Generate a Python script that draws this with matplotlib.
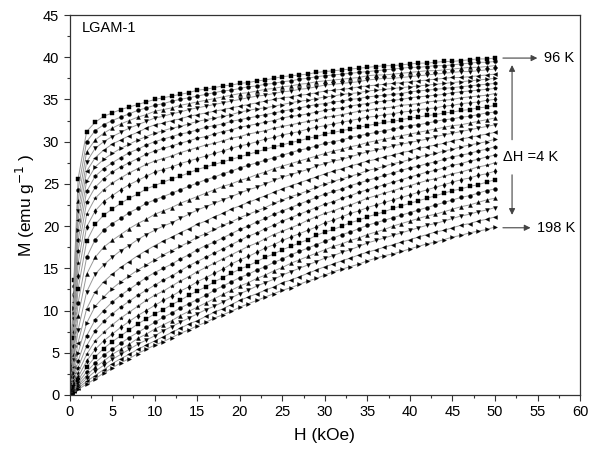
import matplotlib
matplotlib.use("Agg")
import matplotlib.pyplot as plt
from matplotlib.ticker import MultipleLocator

plt.rcParams["font.family"] = ["Liberation Sans", "DejaVu Sans"]

# applied field (kOe)
field_kOe = [0, 0.25, 0.5, 1, 2, 3, 4, 5, 6, 7, 8, 9, 10,
             11, 12, 13, 14, 15, 16, 17, 18, 19, 20,
             21, 22, 23, 24, 25, 26, 27, 28, 29, 30,
             31, 32, 33, 34, 35, 36, 37, 38, 39, 40,
             41, 42, 43, 44, 45, 46, 47, 48, 49, 50]

# magnetization isotherms (emu/g), 96 K at the top down to 198 K
m_096 = [0, 6.8, 13.6, 25.6, 31.2, 32.3, 33.0, 33.4, 33.8, 34.1, 34.4, 34.7, 35.0,
         35.2, 35.4, 35.6, 35.8, 36.1, 36.2, 36.4, 36.6, 36.7, 36.9,
         37.0, 37.2, 37.3, 37.5, 37.7, 37.8, 37.9, 38.0, 38.2, 38.3,
         38.4, 38.5, 38.6, 38.7, 38.8, 38.9, 39.0, 39.0, 39.1, 39.2,
         39.3, 39.3, 39.4, 39.5, 39.5, 39.6, 39.7, 39.8, 39.8, 39.9]
m_100 = [0, 6.4, 12.9, 24.3, 30.0, 31.3, 32.0, 32.5, 32.9, 33.3, 33.7, 34.0, 34.3,
         34.5, 34.8, 35.0, 35.2, 35.4, 35.6, 35.8, 36.0, 36.1, 36.3,
         36.5, 36.6, 36.8, 36.9, 37.1, 37.2, 37.4, 37.5, 37.7, 37.8,
         37.9, 38.0, 38.1, 38.2, 38.3, 38.4, 38.5, 38.6, 38.7, 38.8,
         38.8, 38.9, 39.0, 39.0, 39.1, 39.2, 39.3, 39.4, 39.4, 39.5]
m_104 = [0, 6.1, 12.2, 23.0, 28.8, 30.2, 31.0, 31.6, 32.1, 32.5, 32.9, 33.2, 33.6,
         33.8, 34.0, 34.3, 34.5, 34.7, 34.9, 35.1, 35.3, 35.5, 35.7,
         35.8, 36.0, 36.2, 36.3, 36.5, 36.6, 36.8, 36.9, 37.1, 37.2,
         37.3, 37.4, 37.5, 37.6, 37.8, 37.9, 37.9, 38.0, 38.1, 38.2,
         38.3, 38.4, 38.4, 38.5, 38.6, 38.7, 38.8, 38.8, 38.9, 39.0]
m_108 = [0, 5.8, 11.6, 21.8, 27.6, 29.2, 30.0, 30.6, 31.1, 31.6, 32.0, 32.4, 32.8,
         33.0, 33.3, 33.5, 33.8, 34.0, 34.2, 34.4, 34.6, 34.8, 35.0,
         35.2, 35.4, 35.5, 35.7, 35.9, 36.0, 36.2, 36.3, 36.5, 36.7,
         36.8, 36.9, 37.0, 37.1, 37.3, 37.4, 37.5, 37.5, 37.6, 37.7,
         37.8, 37.9, 38.0, 38.1, 38.2, 38.3, 38.3, 38.4, 38.5, 38.6]
m_112 = [0, 5.5, 11.0, 20.7, 26.5, 28.1, 29.0, 29.7, 30.2, 30.7, 31.1, 31.6, 32.0,
         32.2, 32.5, 32.7, 33.0, 33.2, 33.4, 33.6, 33.8, 34.0, 34.2,
         34.4, 34.6, 34.8, 35.0, 35.2, 35.3, 35.5, 35.6, 35.8, 36.0,
         36.1, 36.2, 36.3, 36.5, 36.6, 36.7, 36.8, 36.9, 37.0, 37.1,
         37.2, 37.3, 37.4, 37.5, 37.6, 37.6, 37.7, 37.8, 37.9, 38.0]
m_116 = [0, 5.2, 10.3, 19.5, 25.3, 27.0, 27.9, 28.6, 29.2, 29.7, 30.2, 30.6, 31.0,
         31.3, 31.6, 31.8, 32.1, 32.4, 32.6, 32.8, 33.0, 33.2, 33.5,
         33.7, 33.9, 34.0, 34.2, 34.4, 34.6, 34.8, 34.9, 35.1, 35.3,
         35.4, 35.6, 35.7, 35.8, 36.0, 36.1, 36.2, 36.3, 36.4, 36.5,
         36.6, 36.7, 36.8, 36.9, 37.0, 37.1, 37.2, 37.3, 37.4, 37.5]
m_120 = [0, 4.8, 9.7, 18.3, 24.1, 25.9, 26.8, 27.5, 28.1, 28.7, 29.1, 29.6, 30.0,
         30.3, 30.6, 30.9, 31.1, 31.4, 31.7, 31.9, 32.1, 32.4, 32.6,
         32.8, 33.0, 33.2, 33.4, 33.6, 33.8, 34.0, 34.2, 34.4, 34.5,
         34.7, 34.8, 35.0, 35.1, 35.3, 35.4, 35.5, 35.6, 35.7, 35.9,
         36.0, 36.1, 36.2, 36.3, 36.4, 36.5, 36.6, 36.7, 36.8, 36.9]
m_124 = [0, 4.5, 9.1, 17.1, 22.8, 24.6, 25.6, 26.4, 27.0, 27.5, 28.0, 28.5, 28.9,
         29.2, 29.5, 29.8, 30.1, 30.4, 30.6, 30.9, 31.2, 31.4, 31.7,
         31.9, 32.1, 32.3, 32.5, 32.8, 33.0, 33.1, 33.3, 33.5, 33.7,
         33.9, 34.0, 34.2, 34.4, 34.5, 34.7, 34.8, 34.9, 35.0, 35.2,
         35.3, 35.4, 35.5, 35.6, 35.8, 35.9, 36.0, 36.1, 36.2, 36.3]
m_128 = [0, 4.1, 8.3, 15.6, 21.4, 23.3, 24.3, 25.1, 25.7, 26.3, 26.8, 27.3, 27.7,
         28.0, 28.3, 28.7, 29.0, 29.3, 29.6, 29.8, 30.1, 30.4, 30.6,
         30.9, 31.1, 31.3, 31.6, 31.8, 32.0, 32.2, 32.4, 32.6, 32.9,
         33.0, 33.2, 33.4, 33.6, 33.7, 33.9, 34.0, 34.1, 34.3, 34.4,
         34.5, 34.7, 34.8, 34.9, 35.0, 35.2, 35.3, 35.4, 35.5, 35.7]
m_132 = [0, 3.7, 7.5, 14.1, 19.9, 21.8, 22.9, 23.6, 24.3, 24.9, 25.4, 25.9, 26.4,
         26.7, 27.0, 27.4, 27.7, 28.0, 28.3, 28.6, 28.9, 29.2, 29.5,
         29.7, 30.0, 30.3, 30.5, 30.8, 31.0, 31.2, 31.5, 31.7, 31.9,
         32.1, 32.3, 32.5, 32.7, 32.9, 33.0, 33.2, 33.3, 33.5, 33.6,
         33.8, 33.9, 34.0, 34.2, 34.3, 34.5, 34.6, 34.7, 34.9, 35.0]
m_136 = [0, 3.3, 6.7, 12.6, 18.2, 20.2, 21.3, 22.0, 22.7, 23.3, 23.8, 24.4, 24.8,
         25.2, 25.6, 25.9, 26.3, 26.7, 27.0, 27.3, 27.6, 27.9, 28.2,
         28.5, 28.8, 29.1, 29.4, 29.6, 29.9, 30.1, 30.4, 30.6, 30.9,
         31.1, 31.3, 31.5, 31.7, 31.9, 32.1, 32.3, 32.4, 32.6, 32.8,
         32.9, 33.1, 33.2, 33.4, 33.5, 33.7, 33.8, 34.0, 34.1, 34.3]
m_140 = [0, 2.9, 5.8, 10.9, 16.3, 18.4, 19.5, 20.3, 20.9, 21.6, 22.1, 22.7, 23.1,
         23.5, 23.9, 24.3, 24.7, 25.1, 25.5, 25.8, 26.2, 26.5, 26.9,
         27.2, 27.5, 27.8, 28.1, 28.4, 28.7, 29.0, 29.2, 29.5, 29.8,
         30.0, 30.2, 30.5, 30.7, 30.9, 31.1, 31.3, 31.5, 31.7, 31.9,
         32.0, 32.2, 32.4, 32.6, 32.7, 32.9, 33.0, 33.2, 33.4, 33.5]
m_144 = [0, 2.5, 4.9, 9.3, 14.3, 16.3, 17.5, 18.3, 19.0, 19.7, 20.3, 20.8, 21.4,
         21.8, 22.2, 22.7, 23.1, 23.5, 23.9, 24.3, 24.7, 25.0, 25.4,
         25.7, 26.1, 26.4, 26.8, 27.1, 27.4, 27.7, 28.0, 28.3, 28.6,
         28.9, 29.1, 29.4, 29.6, 29.9, 30.1, 30.3, 30.5, 30.7, 30.9,
         31.1, 31.3, 31.5, 31.7, 31.9, 32.0, 32.2, 32.4, 32.6, 32.8]
m_148 = [0, 2.0, 4.1, 7.7, 12.2, 14.3, 15.4, 16.3, 17.1, 17.7, 18.4, 19.0, 19.5,
         20.0, 20.4, 20.9, 21.4, 21.9, 22.3, 22.7, 23.1, 23.5, 23.9,
         24.3, 24.6, 25.0, 25.4, 25.8, 26.1, 26.4, 26.7, 27.1, 27.4,
         27.7, 27.9, 28.2, 28.5, 28.8, 29.0, 29.2, 29.5, 29.7, 29.9,
         30.1, 30.3, 30.6, 30.8, 31.0, 31.2, 31.4, 31.6, 31.8, 32.0]
m_152 = [0, 1.6, 3.3, 6.2, 10.2, 12.2, 13.4, 14.3, 15.1, 15.8, 16.5, 17.1, 17.7,
         18.2, 18.7, 19.2, 19.7, 20.2, 20.6, 21.1, 21.5, 22.0, 22.4,
         22.8, 23.2, 23.6, 24.0, 24.4, 24.8, 25.1, 25.5, 25.8, 26.2,
         26.5, 26.8, 27.1, 27.4, 27.7, 27.9, 28.2, 28.4, 28.7, 28.9,
         29.2, 29.4, 29.6, 29.8, 30.1, 30.3, 30.5, 30.7, 30.9, 31.1]
m_156 = [0, 1.3, 2.65, 5.0, 8.5, 10.5, 11.6, 12.6, 13.4, 14.1, 14.8, 15.4, 16.0,
         16.6, 17.1, 17.6, 18.1, 18.7, 19.1, 19.6, 20.1, 20.5, 21.0,
         21.4, 21.8, 22.2, 22.7, 23.1, 23.5, 23.8, 24.2, 24.6, 25.0,
         25.3, 25.6, 25.9, 26.2, 26.6, 26.8, 27.1, 27.4, 27.6, 27.9,
         28.2, 28.4, 28.6, 28.9, 29.1, 29.4, 29.6, 29.8, 30.0, 30.3]
m_160 = [0, 1.06, 2.1, 4.0, 7.0, 8.9, 10.0, 11.0, 11.8, 12.5, 13.2, 13.9, 14.5,
         15.0, 15.5, 16.1, 16.6, 17.2, 17.7, 18.1, 18.6, 19.1, 19.6,
         20.0, 20.5, 20.9, 21.4, 21.8, 22.2, 22.6, 23.0, 23.4, 23.8,
         24.1, 24.4, 24.8, 25.1, 25.4, 25.7, 26.0, 26.3, 26.6, 26.9,
         27.1, 27.4, 27.6, 27.9, 28.2, 28.4, 28.6, 28.9, 29.1, 29.4]
m_164 = [0, 0.86, 1.7, 3.25, 5.8, 7.6, 8.7, 9.6, 10.4, 11.1, 11.8, 12.4, 13.0,
         13.6, 14.1, 14.7, 15.3, 15.8, 16.3, 16.8, 17.3, 17.8, 18.3,
         18.8, 19.2, 19.7, 20.1, 20.6, 21.0, 21.4, 21.8, 22.2, 22.6,
         22.9, 23.3, 23.6, 24.0, 24.3, 24.6, 24.9, 25.2, 25.5, 25.8,
         26.1, 26.4, 26.6, 26.9, 27.2, 27.4, 27.7, 27.9, 28.2, 28.4]
m_168 = [0, 0.7, 1.4, 2.65, 4.8, 6.4, 7.4, 8.3, 9.1, 9.8, 10.5, 11.2, 11.8,
         12.3, 12.9, 13.5, 14.0, 14.6, 15.1, 15.6, 16.1, 16.6, 17.1,
         17.6, 18.0, 18.5, 19.0, 19.4, 19.8, 20.2, 20.7, 21.1, 21.5,
         21.8, 22.2, 22.5, 22.9, 23.3, 23.6, 23.9, 24.2, 24.5, 24.8,
         25.1, 25.4, 25.6, 25.9, 26.2, 26.4, 26.7, 27.0, 27.2, 27.5]
m_172 = [0, 0.57, 1.14, 2.15, 4.0, 5.4, 6.4, 7.2, 8.0, 8.7, 9.4, 10.0, 10.6,
         11.2, 11.7, 12.3, 12.8, 13.4, 13.9, 14.4, 14.9, 15.5, 16.0,
         16.4, 16.9, 17.4, 17.8, 18.3, 18.7, 19.1, 19.5, 19.9, 20.4,
         20.7, 21.1, 21.5, 21.8, 22.2, 22.5, 22.8, 23.1, 23.4, 23.7,
         24.0, 24.3, 24.6, 24.9, 25.2, 25.5, 25.7, 26.0, 26.2, 26.5]
m_176 = [0, 0.46, 0.93, 1.75, 3.3, 4.5, 5.5, 6.3, 7.0, 7.7, 8.4, 9.0, 9.6,
         10.1, 10.7, 11.2, 11.8, 12.3, 12.8, 13.4, 13.9, 14.4, 14.9,
         15.3, 15.8, 16.3, 16.7, 17.2, 17.6, 18.0, 18.4, 18.9, 19.3,
         19.6, 20.0, 20.4, 20.7, 21.1, 21.4, 21.7, 22.1, 22.4, 22.7,
         23.0, 23.3, 23.6, 23.9, 24.2, 24.4, 24.7, 24.9, 25.2, 25.5]
m_180 = [0, 0.38, 0.76, 1.43, 2.75, 3.8, 4.7, 5.4, 6.1, 6.8, 7.4, 8.0, 8.6,
         9.2, 9.7, 10.3, 10.8, 11.3, 11.8, 12.4, 12.9, 13.4, 13.9,
         14.3, 14.8, 15.2, 15.7, 16.1, 16.6, 17.0, 17.4, 17.8, 18.2,
         18.6, 19.0, 19.3, 19.7, 20.1, 20.4, 20.7, 21.0, 21.3, 21.6,
         21.9, 22.2, 22.5, 22.8, 23.1, 23.4, 23.6, 23.9, 24.2, 24.4]
m_184 = [0, 0.31, 0.63, 1.18, 2.3, 3.3, 4.0, 4.8, 5.4, 6.0, 6.7, 7.2, 7.8,
         8.3, 8.8, 9.4, 9.9, 10.4, 10.9, 11.4, 11.9, 12.4, 12.9,
         13.3, 13.8, 14.2, 14.7, 15.1, 15.6, 16.0, 16.4, 16.8, 17.2,
         17.6, 17.9, 18.3, 18.6, 19.0, 19.3, 19.6, 20.0, 20.3, 20.6,
         20.9, 21.2, 21.4, 21.7, 22.0, 22.3, 22.5, 22.8, 23.1, 23.3]
m_188 = [0, 0.26, 0.52, 0.99, 1.95, 2.8, 3.5, 4.2, 4.8, 5.4, 6.0, 6.5, 7.0,
         7.6, 8.1, 8.6, 9.1, 9.6, 10.1, 10.5, 11.0, 11.5, 12.0,
         12.4, 12.9, 13.3, 13.7, 14.2, 14.6, 15.0, 15.4, 15.8, 16.2,
         16.5, 16.9, 17.2, 17.6, 18.0, 18.3, 18.6, 18.9, 19.2, 19.5,
         19.8, 20.1, 20.3, 20.6, 20.9, 21.2, 21.4, 21.7, 21.9, 22.2]
m_192 = [0, 0.21, 0.43, 0.81, 1.6, 2.3, 3.0, 3.7, 4.3, 4.8, 5.4, 5.9, 6.4,
         6.9, 7.4, 7.9, 8.4, 8.8, 9.3, 9.8, 10.2, 10.7, 11.2,
         11.6, 12.0, 12.4, 12.8, 13.3, 13.6, 14.0, 14.4, 14.8, 15.2,
         15.5, 15.9, 16.2, 16.6, 16.9, 17.2, 17.5, 17.8, 18.1, 18.4,
         18.7, 19.0, 19.3, 19.5, 19.8, 20.1, 20.3, 20.6, 20.8, 21.1]
m_198 = [0, 0.17, 0.33, 0.65, 1.3, 1.9, 2.6, 3.2, 3.8, 4.3, 4.9, 5.4, 5.9,
         6.3, 6.8, 7.3, 7.7, 8.2, 8.6, 9.1, 9.5, 9.9, 10.4,
         10.8, 11.2, 11.6, 12.0, 12.4, 12.7, 13.1, 13.5, 13.8, 14.2,
         14.6, 14.9, 15.2, 15.5, 15.9, 16.2, 16.5, 16.7, 17.0, 17.3,
         17.6, 17.9, 18.1, 18.4, 18.7, 18.9, 19.2, 19.4, 19.6, 19.9]

isotherms = [m_096, m_100, m_104, m_108, m_112, m_116, m_120, m_124, m_128,
             m_132, m_136, m_140, m_144, m_148, m_152, m_156, m_160, m_164,
             m_168, m_172, m_176, m_180, m_184, m_188, m_192, m_198]

markers = ["s", "o", "^", "v", "<", ">", "h", "p", "*", "d"]

fig = plt.figure(figsize=(5.95, 4.55), dpi=100)
ax = fig.add_axes([0.117, 0.132, 0.858, 0.835])

for k, m in enumerate(isotherms):
    ax.plot(field_kOe, m, color="#999999", lw=0.7,
            marker=markers[k % len(markers)], ms=2.8,
            mfc="black", mec="black", mew=0.3)

ax.set_xlim(0, 60)
ax.set_ylim(0, 45)
ax.xaxis.set_major_locator(MultipleLocator(5))
ax.xaxis.set_minor_locator(MultipleLocator(2.5))
ax.yaxis.set_major_locator(MultipleLocator(5))
ax.yaxis.set_minor_locator(MultipleLocator(2.5))
ax.tick_params(which="both", direction="out", top=False, right=False,
               labelsize=10.5, color="#333333")
ax.tick_params(which="major", length=4, width=0.8)
ax.tick_params(which="minor", length=2.5, width=0.8)
for sp in ax.spines.values():
    sp.set_color("#333333")
    sp.set_linewidth(0.9)

ax.set_xlabel("H (kOe)", fontsize=12.5, labelpad=6)
ax.set_ylabel("M (emu g$^{-1}$ )", fontsize=12.5, labelpad=4)

ax.text(0.024, 0.966, "LGAM-1", transform=ax.transAxes,
        ha="left", va="center", fontsize=10.5)

arrow = dict(arrowstyle="-|>", color="#444444", lw=0.8, mutation_scale=9)
ax.annotate("", xy=(55.3, 39.9), xytext=(50.6, 39.9), arrowprops=arrow)
ax.text(55.7, 39.9, "96 K", ha="left", va="center", fontsize=10.5)
ax.annotate("", xy=(54.5, 19.8), xytext=(50.6, 19.8), arrowprops=arrow)
ax.text(54.9, 19.8, "198 K", ha="left", va="center", fontsize=10.5)

ax.annotate("", xy=(52.0, 39.4), xytext=(52.0, 29.9), arrowprops=arrow)
ax.annotate("", xy=(52.0, 21.0), xytext=(52.0, 26.4), arrowprops=arrow)
ax.text(50.9, 28.2, "\u0394H =4 K", ha="left", va="center", fontsize=10.5)

fig.savefig("out.png", dpi=100)
